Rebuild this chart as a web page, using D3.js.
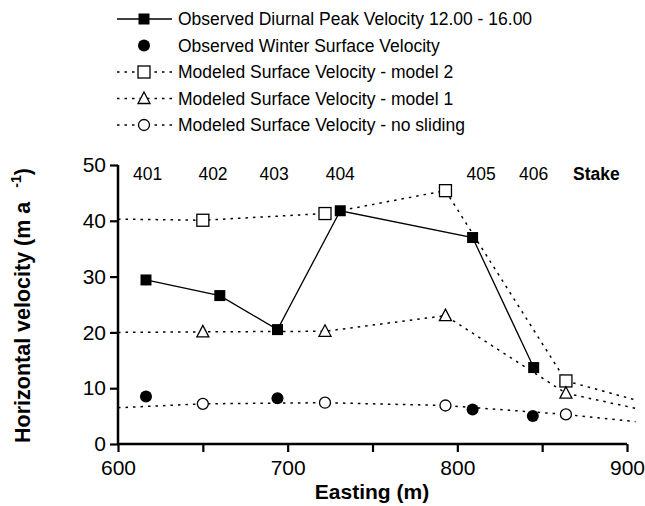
<!DOCTYPE html>
<html><head><meta charset="utf-8">
<script src="https://cdn.jsdelivr.net/npm/d3@7"></script>
<style>body{margin:0;background:#fff}svg{display:block;font-family:"Liberation Sans",Arial,sans-serif}</style>
</head><body><div id="chart"></div>
<script>
// ---- data ----
const diurnalX = [616.5, 660, 694, 731, 809, 845];
const diurnalY = [29.4, 26.6, 20.5, 41.8, 37.0, 13.7];
const winterX = [616.5, 694, 809, 844.5];
const winterY = [8.5, 8.2, 6.2, 5.0];
const modelLineX = [600, 650, 722, 793, 864, 905];
const model2Y = [40.3, 40.1, 41.3, 45.4, 11.3, 7.9];
const model1Y = [20.0, 20.1, 20.2, 23.0, 9.1, 6.4];
const noSlideY = [6.5, 7.2, 7.4, 6.9, 5.3, 4.0];
const modelMarkerIdx = [1, 2, 3, 4];
const stakeLabels = ["401", "402", "403", "404", "405", "406", "Stake"];
const stakeLabelX = [617.5, 656, 692, 731, 814, 845, 882];
const xTicks = [600, 650, 700, 750, 800, 850, 900];
const yTicks = [0, 10, 20, 30, 40, 50];
const legendLabels = [
  "Observed Diurnal Peak Velocity 12.00 - 16.00",
  "Observed Winter Surface Velocity",
  "Modeled Surface Velocity - model 2",
  "Modeled Surface Velocity - model 1",
  "Modeled Surface Velocity - no sliding"
];

const W = 645, H = 506;
const svg = d3.select("#chart").append("svg").attr("width", W).attr("height", H);
const x = d3.scaleLinear().domain([600, 900]).range([118, 627]);
const y = d3.scaleLinear().domain([0, 50]).range([444, 165]);

// axes
const xAxis = d3.axisBottom(x).tickValues(xTicks).tickSize(8).tickSizeOuter(0)
  .tickFormat(d => d % 100 === 0 ? d : "");
const gx = svg.append("g").attr("transform", `translate(0,${y(0)})`).call(xAxis);
gx.select(".domain").attr("stroke-width", 2.5).attr("d", `M${x(600)},0H${x(900)}`);
gx.selectAll(".tick line").attr("stroke-width", 2.2);
gx.selectAll(".tick text").attr("font-size", 21).attr("dy", "0.95em").attr("font-family", "Liberation Sans, Arial, sans-serif");

const yAxis = d3.axisLeft(y).tickValues(yTicks).tickSize(8).tickSizeOuter(0);
const gy = svg.append("g").attr("transform", `translate(${x(600)},0)`).call(yAxis);
gy.select(".domain").attr("stroke-width", 2.5).attr("d", `M0,${y(0)}V${y(50)}`);
gy.selectAll(".tick line").attr("stroke-width", 2.2);
gy.selectAll(".tick text").attr("font-size", 21).attr("x", -12).attr("font-family", "Liberation Sans, Arial, sans-serif");

// axis titles
svg.append("text").attr("x", 372).attr("y", 499).attr("text-anchor", "middle")
  .attr("font-size", 21).attr("font-weight", "bold").text("Easting (m)");
const yt = svg.append("text").attr("transform", "translate(30,443) rotate(-90)")
  .attr("font-size", 21.5).attr("font-weight", "bold");
yt.append("tspan").text("Horizontal velocity (m a");
yt.append("tspan").attr("dx", 14).attr("dy", -9).attr("font-size", 14).text("-1");
yt.append("tspan").attr("dy", 9).text(")");

// lines
const line = d3.line().x(d => x(d[0])).y(d => y(d[1]));
const dash = "2.5,5";
[model2Y, model1Y, noSlideY].forEach(vals => {
  svg.append("path").datum(modelLineX.map((xv, i) => [xv, vals[i]]))
    .attr("d", line).attr("fill", "none").attr("stroke", "#000")
    .attr("stroke-width", 1.5).attr("stroke-dasharray", dash);
});
svg.append("path").datum(diurnalX.map((xv, i) => [xv, diurnalY[i]]))
  .attr("d", line).attr("fill", "none").attr("stroke", "#000").attr("stroke-width", 1.3);

// markers
function drawMarker(g, type, cx, cy) {
  if (type === "fsq") g.append("rect").attr("x", cx - 5.5).attr("y", cy - 5.5).attr("width", 11).attr("height", 11).attr("fill", "#000");
  if (type === "fcirc") g.append("circle").attr("cx", cx).attr("cy", cy).attr("r", 6).attr("fill", "#000");
  if (type === "osq") g.append("rect").attr("x", cx - 6).attr("y", cy - 6).attr("width", 12).attr("height", 12).attr("fill", "#fff").attr("stroke", "#000").attr("stroke-width", 1.3);
  if (type === "otri") g.append("path").attr("d", `M${cx},${cy - 6.5}L${cx + 6},${cy + 5}L${cx - 6},${cy + 5}Z`).attr("fill", "#fff").attr("stroke", "#000").attr("stroke-width", 1.3);
  if (type === "ocirc") g.append("circle").attr("cx", cx).attr("cy", cy).attr("r", 5.5).attr("fill", "#fff").attr("stroke", "#000").attr("stroke-width", 1.3);
}
const gm = svg.append("g");
modelMarkerIdx.forEach(i => drawMarker(gm, "osq", x(modelLineX[i]), y(model2Y[i])));
modelMarkerIdx.forEach(i => drawMarker(gm, "otri", x(modelLineX[i]), y(model1Y[i])));
modelMarkerIdx.forEach(i => drawMarker(gm, "ocirc", x(modelLineX[i]), y(noSlideY[i])));
winterX.forEach((xv, i) => drawMarker(gm, "fcirc", x(xv), y(winterY[i])));
diurnalX.forEach((xv, i) => drawMarker(gm, "fsq", x(xv), y(diurnalY[i])));

// stake labels
svg.append("g").selectAll("text").data(stakeLabels).join("text")
  .attr("x", (d, i) => x(stakeLabelX[i])).attr("y", 180).attr("text-anchor", "middle")
  .attr("font-size", 17.5).attr("font-weight", d => d === "Stake" ? "bold" : "normal").text(d => d);

// legend
const legTypes = ["fsq", "fcirc", "osq", "otri", "ocirc"];
const legLines = ["solid", null, "dot", "dot", "dot"];
const legY = [19, 45.5, 72, 98.5, 125];
const gl = svg.append("g");
legendLabels.forEach((lab, i) => {
  const ly = legY[i];
  if (legLines[i]) {
    gl.append("line").attr("x1", 117).attr("x2", 172).attr("y1", ly).attr("y2", ly)
      .attr("stroke", "#000").attr("stroke-width", legLines[i] === "solid" ? 1.3 : 1.5)
      .attr("stroke-dasharray", legLines[i] === "dot" ? dash : null);
  }
  drawMarker(gl, legTypes[i], 144, ly);
  gl.append("text").attr("x", 178).attr("y", ly).attr("dy", "0.36em")
    .attr("font-size", 17.5).text(lab);
});
</script></body></html>
